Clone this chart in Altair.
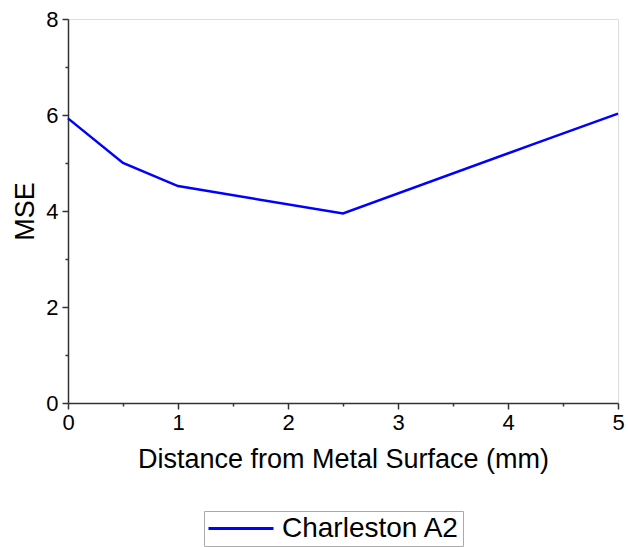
import altair as alt
import pandas as pd

distance = [0, 0.5, 1, 2.5, 4.25, 5]
mse = [5.93, 5.0, 4.52, 3.95, 5.41, 6.03]
series = ["Charleston A2"] * len(distance)

x_major = [0, 1, 2, 3, 4, 5]
x_minor = [0.5, 1.5, 2.5, 3.5, 4.5]
y_major = [0, 2, 4, 6, 8]
y_minor = [1, 3, 5, 7]

df = pd.DataFrame({"distance": distance, "mse": mse, "series": series})

FONT = "Liberation Sans"
AXC = "#333333"

xs = alt.Scale(domain=[0, 5], nice=False, zero=False)
ys = alt.Scale(domain=[0, 8], nice=False)

line = alt.Chart(df).mark_line(strokeWidth=2.5).encode(
    x=alt.X("distance:Q", scale=xs, title="Distance from Metal Surface (mm)",
            axis=alt.Axis(values=x_major, grid=False, tickSize=6, tickWidth=1.5,
                          tickColor=AXC, domainColor=AXC, domainWidth=1.5,
                          labelFont=FONT, labelFontSize=22, labelColor="black",
                          labelPadding=3, labelFlush=False, titleFont=FONT, titleFontSize=27,
                          titleFontWeight="normal", titleColor="black",
                          titlePadding=13, orient="bottom", format="d")),
    y=alt.Y("mse:Q", scale=ys, title="MSE",
            axis=alt.Axis(values=y_major, grid=False, tickSize=6, tickWidth=1.5,
                          tickColor=AXC, domainColor=AXC, domainWidth=1.5,
                          labelFont=FONT, labelFontSize=22, labelColor="black",
                          labelPadding=4, labelFlush=False, titleFont=FONT, titleFontSize=27,
                          titleFontWeight="normal", titleColor="black",
                          titlePadding=6, orient="left", format="d")),
    color=alt.Color("series:N", scale=alt.Scale(range=["#0000ff"]),
                    legend=alt.Legend(title=None, orient="none", legendX=136, legendY=492,
                                      symbolType="M-1,0H4", symbolSize=676,
                                      symbolStrokeWidth=3, symbolFillColor="transparent",
                                      labelFont=FONT,
                                      labelFontSize=28, labelColor="black",
                                      labelOffset=46, padding=3,
                                      strokeColor="#aaaaaa", fillColor="white",
                                      labelLimit=400)),
)

minor = alt.Chart(df).mark_point(opacity=0).encode(
    x=alt.X("distance:Q", scale=xs, title=None,
            axis=alt.Axis(values=x_minor, grid=False, labels=False, domain=False,
                          tickSize=3, tickWidth=1.5, tickColor=AXC, orient="bottom")),
    y=alt.Y("mse:Q", scale=ys, title=None,
            axis=alt.Axis(values=y_minor, grid=False, labels=False, domain=False,
                          tickSize=3, tickWidth=1.5, tickColor=AXC, orient="left")),
)

chart = alt.layer(line, minor).resolve_axis(x="independent", y="independent").properties(
    width=550, height=384,
    autosize=alt.AutoSizeParams(type="none"),
    padding={"left": 68, "top": 19, "right": 10, "bottom": 144},
).configure_view(stroke=None).configure(background="white")

chart.save("out.html", embed_options={"renderer": "svg", "actions": False})
